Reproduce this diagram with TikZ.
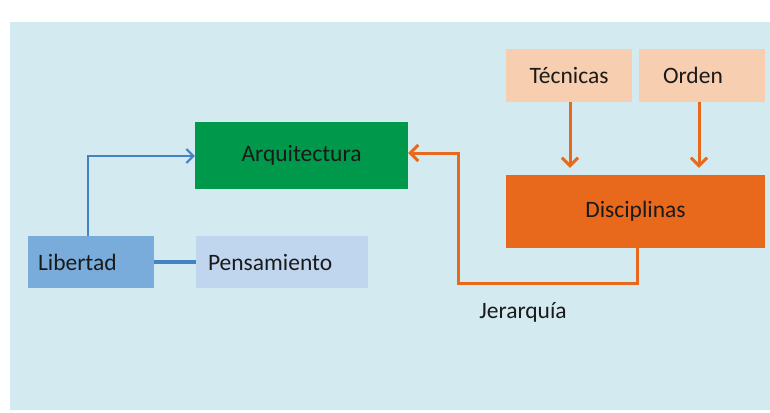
\documentclass[tikz,border=0pt]{standalone}
\usepackage{fontspec}
\setmainfont{Carlito}
\usetikzlibrary{arrows.meta}
\definecolor{bgc}{HTML}{D3EAF0}
\definecolor{arqc}{HTML}{00984A}
\definecolor{libc}{HTML}{79ACDA}
\definecolor{penc}{HTML}{C0D6EE}
\definecolor{tecc}{HTML}{F8CEB0}
\definecolor{disc}{HTML}{E8691C}
\definecolor{bluec}{HTML}{4483C3}
\definecolor{txtc}{HTML}{1A1A1A}
\tikzset{
  box/.style={rectangle, inner sep=0pt, draw=none, text=txtc, font=\fontsize{23.5}{26}\selectfont},
  bluearrow/.style={draw=bluec, line width=2pt, -{Straight Barb[length=7pt,width=14pt,line width=2pt]}},
  bluethick/.style={draw=bluec, line width=3.5pt},
  orangearrow/.style={draw=disc, line width=3pt, -{Straight Barb[length=8pt,width=16pt,line width=3pt]}}
}
\begin{document}
\begin{tikzpicture}[x=1pt,y=-1pt]
\useasboundingbox (0,0) rectangle (770,412);
\fill[bgc] (10,22) rectangle (770,410);
\node[box, fill=arqc, minimum width=213pt, minimum height=67pt] (arq) at (301.5,155.5) {Arquitectura};
\node[box, fill=libc, minimum width=126pt, minimum height=52pt, text width=106pt, inner xsep=10pt, align=left] (lib) at (91,262) {Libertad};
\node[box, fill=penc, minimum width=172pt, minimum height=52pt, text width=148pt, inner xsep=12pt, align=left] (pen) at (282,262) {Pensamiento};
\node[box, fill=tecc, minimum width=126pt, minimum height=53pt] (tec) at (569,75.5) {Técnicas};
\node[box, fill=tecc, minimum width=126pt, minimum height=53pt, text width=78pt, inner xsep=24pt, align=left] (ord) at (702,75.5) {Orden};
\node[box, fill=disc, minimum width=259pt, minimum height=73pt] (dis) at (635.5,211.5) {Disciplinas};
\node[box] (jer) at (523,312) {Jerarquía};
\coordinate (j1) at (458,283);
\draw[bluearrow] ([xshift=-3pt]lib.north) |- ([yshift=-0.5pt]arq.west);
\draw[bluethick] (lib.east) -- (pen.west);
\draw[orangearrow, shorten >=7pt] ([xshift=1pt]tec.south) -- ([xshift=1pt]tec.south |- dis.north);
\draw[orangearrow, shorten >=7pt] ([xshift=-3pt]ord.south) -- ([xshift=-3pt]ord.south |- dis.north);
\draw[orangearrow] ([xshift=1.5pt]dis.south) |- (j1) |- ([yshift=2.5pt]arq.east);
\end{tikzpicture}
\end{document}
